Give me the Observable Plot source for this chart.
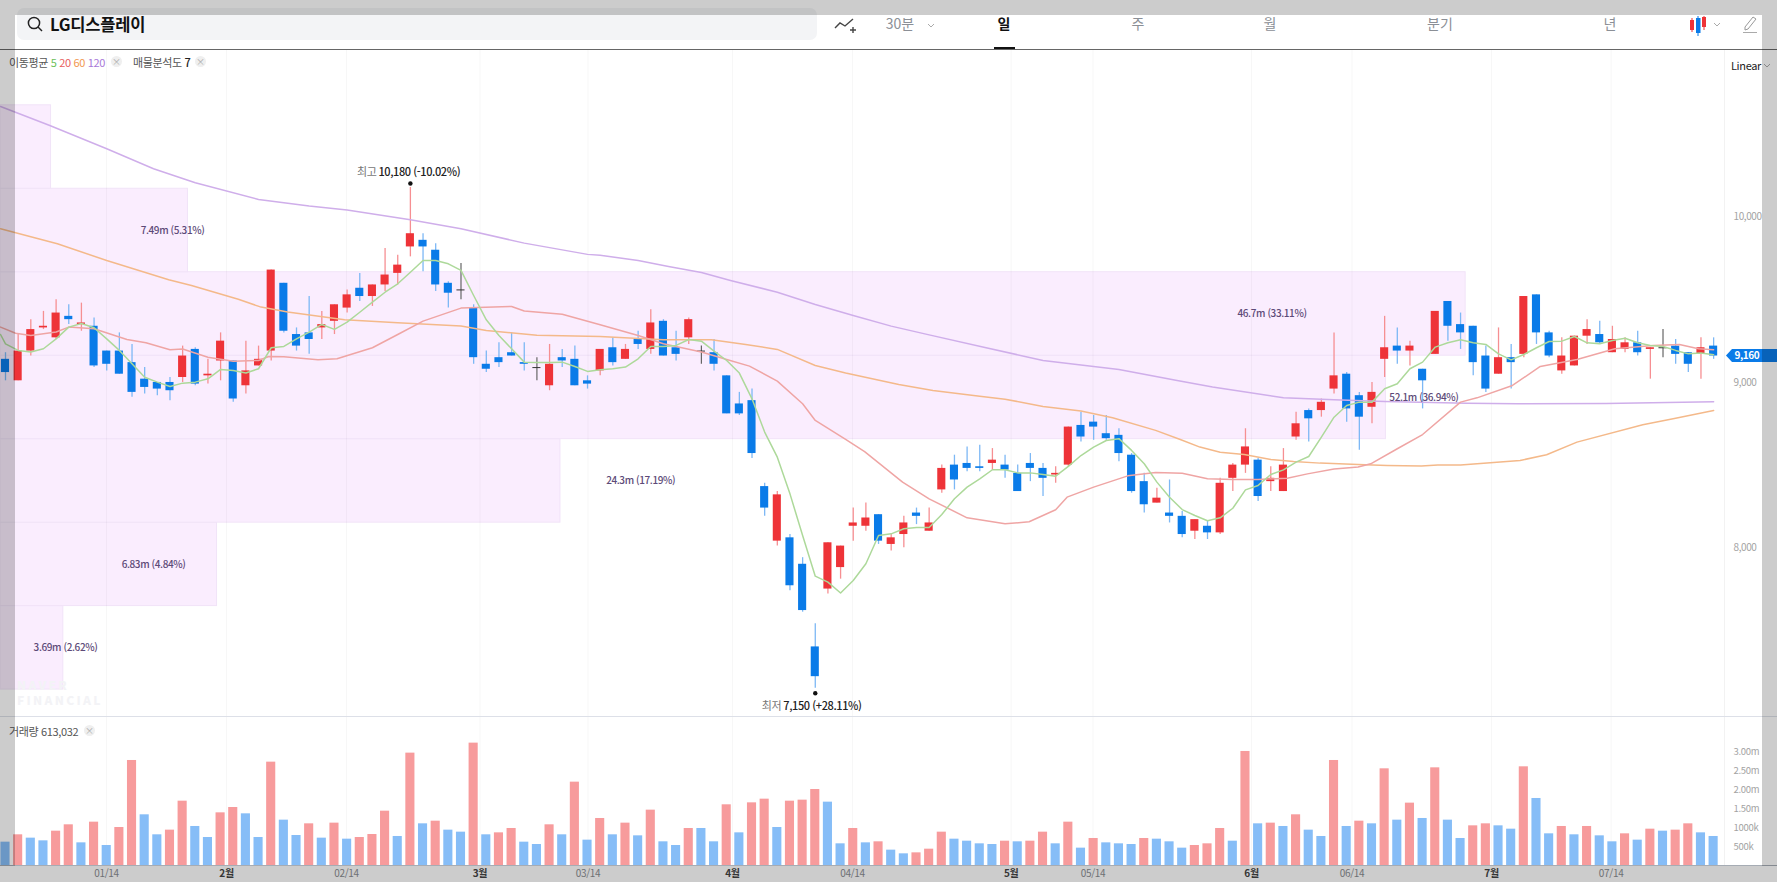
<!DOCTYPE html>
<html lang="ko">
<head>
<meta charset="utf-8">
<script src="https://cdn.jsdelivr.net/npm/d3@7"></script>
<script src="https://cdn.jsdelivr.net/npm/@observablehq/plot@0.6"></script>
<style>
html,body{margin:0;padding:0;width:1777px;height:882px;overflow:hidden;background:#fff;font-family:'Noto Sans CJK KR','Noto Sans',sans-serif;}
.abs{position:absolute;white-space:nowrap;}
.tab{position:absolute;top:13px;font-size:14px;color:#8b8f96;transform:translateX(-50%);line-height:20px;}
.leg{position:absolute;font-size:11px;letter-spacing:-.35px;line-height:14px;color:#555;white-space:nowrap;}
.x{position:absolute;width:11px;height:11px;border-radius:50%;background:#efefef;color:#aaa;font-size:9px;line-height:11px;text-align:center;}
#price{position:absolute;left:0;top:50px;}
#volume{position:absolute;left:0;top:716px;}
.shade{position:absolute;background:rgba(0,0,0,.2);z-index:10;}
</style>
</head>
<body>
<div class="abs" style="left:17px;top:8px;width:800px;height:32px;background:#f3f4f6;border-radius:7px;"></div>
<svg class="abs" style="left:27px;top:16px" width="17" height="17" viewBox="0 0 17 17"><circle cx="7" cy="7" r="5.6" fill="none" stroke="#222" stroke-width="1.5"/><line x1="11" y1="11" x2="15" y2="15" stroke="#222" stroke-width="1.5"/></svg>
<div class="abs" style="left:50px;top:12px;font-size:16.5px;font-weight:700;color:#111;line-height:24px;letter-spacing:-.2px;">LG디스플레이</div>
<svg class="abs" style="left:834px;top:16px" width="24" height="20" viewBox="0 0 24 20"><polyline points="1,12 6,7 11,10 19,3" fill="none" stroke="#444" stroke-width="1.4"/><path d="M16 14h6M19 11v6" stroke="#444" stroke-width="1.4"/></svg>
<div class="tab" style="left:900px">30분</div>
<svg class="abs" style="left:927px;top:23px" width="8" height="6" viewBox="0 0 8 6"><polyline points="1,1 4,4 7,1" fill="none" stroke="#aaa"/></svg>
<div class="tab" style="left:1004px;color:#111;font-weight:700">일</div>
<div class="abs" style="left:994px;top:47px;width:21px;height:3px;background:#111"></div>
<div class="tab" style="left:1138px">주</div>
<div class="tab" style="left:1270px">월</div>
<div class="tab" style="left:1440px">분기</div>
<div class="tab" style="left:1610px">년</div>
<svg class="abs" style="left:1689px;top:14px" width="18" height="22" viewBox="0 0 18 22"><line x1="3" y1="4" x2="3" y2="18" stroke="#ee3338"/><rect x="1" y="6" width="4" height="10" fill="#ee3338"/><line x1="9" y1="2" x2="9" y2="22" stroke="#0a7be8"/><rect x="7" y="4" width="4.5" height="15" fill="#0a7be8"/><line x1="15" y1="2" x2="15" y2="16" stroke="#ee3338"/><rect x="13" y="3" width="4" height="10" fill="#ee3338"/></svg>
<svg class="abs" style="left:1713px;top:22px" width="8" height="6" viewBox="0 0 8 6"><polyline points="1,1 4,4 7,1" fill="none" stroke="#aaa"/></svg>
<svg class="abs" style="left:1742px;top:15px" width="16" height="19" viewBox="0 0 16 19"><path d="M3 12L11 2l3 2-8 10-3 1z" fill="none" stroke="#999" stroke-width="1"/><line x1="1" y1="17.5" x2="15" y2="17.5" stroke="#aaa"/></svg>
<div id="price"></div>
<div id="volume"></div>
<div class="abs" style="left:0;top:49px;width:1777px;height:1px;background:#666"></div>
<div class="abs" style="left:0;top:715.5px;width:1777px;height:1.5px;background:#dde0e8"></div>
<div class="abs" style="left:0;top:866px;width:1777px;height:16px;background:#eaeef3;z-index:-1"></div>
<div class="abs" style="left:0;top:864.8px;width:1777px;height:1.5px;background:#a6acb4"></div>

<div class="leg" style="left:9px;top:55px">이동평균 <span style="color:#6bbf59">5</span> <span style="color:#e8605f">20</span> <span style="color:#f2994f">60</span> <span style="color:#a878d8">120</span></div>
<div class="x" style="left:111px;top:56px">×</div>
<div class="leg" style="left:133px;top:55px">매물분석도 <b style="color:#222;font-weight:500">7</b></div>
<div class="x" style="left:195px;top:56px">×</div>
<div class="leg" style="left:1731px;top:58px;color:#222">Linear</div>
<svg class="abs" style="left:1763px;top:63px" width="8" height="6" viewBox="0 0 8 6"><polyline points="1,1 4,4 7,1" fill="none" stroke="#aaa"/></svg>
<div class="leg" style="left:9px;top:724px">거래량 613,032</div>
<div class="x" style="left:84px;top:725px">×</div>
<div class="abs" style="left:17px;top:677px;font-size:12px;line-height:15px;font-weight:800;color:#f3f3f6;letter-spacing:2.3px;">NAVER<br>FINANCIAL</div>

<div class="shade" style="left:0;top:0;width:1777px;height:15px"></div>
<div class="shade" style="left:0;top:15px;width:15px;height:851px"></div>
<div class="shade" style="left:1762px;top:15px;width:15px;height:851px"></div>
<div class="shade" style="left:0;top:866px;width:1777px;height:16px"></div>

<script>
const opens = [9140,9010,9190,9330,9270,9400,9350,9340,9190,9190,9120,9020,9000,9000,9030,9200,9040,9130,9130,8980,9100,9190,9600,9290,9300,9330,9370,9450,9570,9520,9590,9660,9820,9860,9800,9600,9560,9450,9110,9150,9180,9120,9090,8980,9150,9140,9010,9070,9210,9140,9260,9200,9370,9210,9270,9190,9180,9040,8870,8890,8370,8040,8060,7900,7400,7750,7880,8130,8130,8200,8020,8080,8210,8100,8350,8500,8510,8490,8510,8500,8450,8510,8480,8440,8500,8740,8760,8690,8680,8560,8400,8270,8210,8190,8100,8130,8090,8420,8500,8530,8400,8340,8670,8830,8830,8960,9050,8920,8850,9140,9220,9190,9080,9170,9490,9350,9340,9160,9050,9150,9170,9530,9300,9070,9100,9280,9290,9180,9200,9240,9200,9210,9220,9180,9170,9220];
const highs = [9180,9290,9380,9430,9500,9470,9480,9390,9190,9300,9230,9090,9000,9030,9220,9210,9140,9300,9130,9250,9220,9680,9600,9330,9520,9430,9470,9560,9660,9590,9810,9770,10180,9900,9840,9610,9720,9470,9190,9240,9300,9240,9150,9230,9200,9220,9040,9200,9270,9230,9310,9440,9380,9310,9390,9220,9260,9040,8940,8960,8390,8340,8080,7940,7540,8030,8010,8240,8270,8200,8080,8190,8240,8240,8500,8560,8610,8620,8600,8560,8500,8570,8510,8490,8730,8820,8800,8800,8720,8570,8450,8360,8410,8220,8170,8160,8420,8510,8720,8540,8490,8600,8820,8840,8900,9300,9060,8940,9000,9400,9330,9250,9080,9430,9490,9420,9340,9220,9330,9230,9520,9530,9310,9270,9280,9380,9370,9340,9270,9310,9210,9320,9260,9180,9270,9270];
const lows = [9010,9010,9160,9320,9260,9350,9310,9090,9070,9050,8910,8930,8920,8890,9000,8980,8990,9010,8880,8930,9100,9130,9300,9190,9170,9260,9290,9420,9490,9460,9550,9590,9760,9670,9550,9450,9500,9110,9060,9090,9160,9070,9010,8950,9090,8980,8960,9040,9100,9140,9200,9170,9160,9130,9230,9110,9070,8810,8800,8540,8190,8010,7740,7610,7150,7720,7810,8040,8100,8020,7980,8000,8140,8100,8330,8350,8460,8460,8470,8420,8340,8400,8310,8390,8490,8640,8650,8650,8520,8330,8210,8270,8150,8060,8050,8050,8080,8340,8450,8280,8340,8340,8650,8640,8790,8930,8760,8590,8750,9030,9110,9100,8840,9170,9250,9200,9040,8940,9050,8960,9150,9230,9150,9050,9100,9230,9230,9180,9180,9160,9020,9150,9110,9060,9020,9140];
const closes = [9060,9190,9320,9340,9420,9380,9360,9100,9110,9050,8940,8970,8960,8950,9160,8990,9050,9250,8900,9070,9140,9680,9310,9220,9260,9350,9470,9530,9520,9590,9650,9710,9900,9820,9590,9540,9560,9150,9080,9120,9160,9110,9090,9110,9130,8980,8990,9200,9120,9200,9230,9360,9160,9170,9380,9190,9110,8810,8810,8570,8240,8320,7770,7620,7220,8030,8010,8150,8180,8040,8060,8150,8190,8150,8480,8410,8480,8480,8530,8470,8340,8480,8420,8450,8730,8670,8730,8660,8570,8340,8260,8300,8190,8080,8170,8090,8390,8500,8610,8310,8420,8500,8750,8780,8880,9040,8840,8790,8940,9210,9190,9220,9010,9430,9340,9300,9120,8960,9150,9120,9520,9300,9160,9160,9280,9320,9240,9260,9240,9180,9210,9210,9170,9110,9210,9160];
const volumesK = [616,810,722,651,906,1074,598,1144,528,1003,2772,1338,810,933,1698,1030,739,1390,1531,1364,739,2728,1197,792,1100,722,1118,695,739,818,1434,766,2966,1100,1170,933,880,3230,810,862,977,616,554,1074,810,2200,669,1241,810,1118,783,1461,625,528,977,977,625,1602,862,1654,1751,1003,1698,1725,2006,1672,572,977,598,625,405,308,334,431,880,695,642,572,554,642,625,642,880,572,1144,458,713,598,572,554,713,695,625,458,528,572,977,642,3010,1100,1118,1030,1338,933,766,2772,1030,1170,1100,2552,1197,1646,1241,2578,1197,713,1047,1100,1047,959,2605,1769,836,1030,810,1030,783,625,836,669,959,906,933,1100,862,766];
const volumeColors = ("brbbrrbrbr"+"rbbrrbbrrb"+"brbbrbrbrr"+"rbrbrbbrbr"+"rbbrbrbrbr"+"brbbrbbrbr"+"rbrrrbbrbr"+"bbrrrbbbbr"+"brrbrbrbbb"+"rbbbrrrbrb"+"rbrbbrbrbr"+"brbrbbrrbb"+"rbbrbrbbrb"+"rbrrbb").split("");

const ma5Start = {i:-0.39, v:9290};
const ma5 = [9234,9194,9184,9204,9264,9335,9357,9331,9264,9194,9113,9032,9002,8976,8996,9002,9022,9079,9073,9057,9083,9210,9218,9264,9305,9351,9321,9365,9425,9486,9546,9597,9667,9738,9738,9718,9678,9526,9379,9284,9204,9123,9121,9121,9123,9097,9067,9077,9083,9093,9143,9218,9218,9224,9260,9250,9190,9133,9057,8901,8700,8548,8326,8074,7828,7792,7726,7802,7903,8074,8084,8115,8123,8123,8201,8296,8367,8417,8472,8472,8453,8453,8443,8433,8492,8558,8609,8649,8660,8589,8508,8397,8306,8231,8195,8163,8181,8239,8350,8377,8443,8471,8518,8552,8669,8790,8861,8881,8881,8962,8992,9083,9123,9214,9240,9258,9240,9230,9173,9137,9169,9210,9248,9250,9278,9240,9234,9254,9268,9240,9224,9218,9194,9173,9178,9168];
const ma20Idx = [-0.39,0.8,2,4,5,7,9.6,11.1,13,14,16,18,20,20.8,22,24.7,26.2,29,31,33,36,40,41,44,47,50,52,55,57,58.8,61,63,64,66.4,67.9,70.9,73,76,79,80.9,83,83.9,86,88.7,90.9,93,95,97,99,101.3,102.9,105,106.9,107.9,110,112,115,116.3,119.1,121.3,124.2,127.2,130.2,132.3,133.8,135];
const ma20 = [9335,9298,9284,9305,9335,9325,9260,9240,9198,9202,9153,9129,9133,9157,9155,9137,9143,9210,9290,9371,9450,9460,9432,9413,9349,9284,9234,9184,9139,9099,9008,8871,8770,8655,8582,8397,8296,8181,8145,8157,8230,8306,8367,8435,8455,8451,8417,8413,8413,8421,8447,8477,8488,8508,8599,8685,8881,8907,8982,9097,9139,9204,9224,9230,9204,9198];
const ma60Idx = [-0.39,2.3,4.1,8,12.9,14.7,18.4,20.2,22.3,26.8,31,36,38,42,47,52,55.8,58.5,61,64,66.4,70.6,73.3,77,79,82,85,87.5,90.9,92.9,94.4,96,97.9,100,101.8,103.9,106.9,109.2,111.9,113.2,115,119.7,121.8,124.2,129.4,131.8,135];
const ma60 = [9930,9876,9839,9738,9622,9587,9503,9456,9426,9379,9361,9341,9315,9286,9278,9258,9258,9230,9200,9103,9057,8988,8952,8917,8899,8855,8827,8786,8710,8653,8609,8578,8564,8534,8522,8512,8504,8498,8494,8500,8500,8528,8563,8639,8744,8780,8831];
const ma120Idx = [-0.39,3.5,8,11.7,15,20,24,27,32,36,41,46,47,50,52.4,55,57.3,61,64,67,70,73,77.5,82,85,88,92.6,95.4,101,105,109,115.5,119.5,126.5,135];
const ma120 = [10670,10555,10414,10293,10208,10107,10067,10043,9984,9930,9843,9775,9769,9738,9702,9665,9617,9546,9472,9405,9341,9288,9210,9133,9105,9079,9012,8972,8907,8895,8885,8875,8871,8873,8883];

const bandEdges = [7142,7647,8152,8657,9162,9667,10172,10677];
const bandEnds = [4.57,16.72,43.86,109.1,115.4,14.42,3.6];
const bandLabels = ["3.69m (2.62%)","6.83m (4.84%)","24.3m (17.19%)","52.1m (36.94%)","46.7m (33.11%)","7.49m (5.31%)",""];
const bandLabelAt = [4.74,11.7,50.2,112.1,100.1,13.2,0];

const monthTicks = [17.47,37.5,57.46,79.48,98.48,117.45];
const monthLabels = ["2월","3월","4월","5월","6월","7월"];
const dateTicks = [7.98,26.95,46.04,66.94,85.95,106.42,126.9];
const dateLabels = ["01/14","02/14","03/14","04/14","05/14","06/14","07/14"];
const priceTicks = [8000,9000,10000];
const volumeTicks = [500,1000,1500,2000,2500,3000];
const volumeTickLabels = ["500k","1000k","1.50m","2.00m","2.50m","3.00m"];
const lastPrice = [{price:9160,label:"9,160"}];
const highNote = {i:32, price:10180, tag:"최고", text:"10,180 (-10.02%)"};
const lowNote = {i:64, price:7150, tag:"최저", text:"7,150 (+28.11%)"};

const RED="#ee3338", BLUE="#0a7be8";
const xDomain=[-0.395,135.86];
const font="'Noto Sans CJK KR','Noto Sans',sans-serif";
const candles=opens.map((o,i)=>({i,o,h:highs[i],l:lows[i],c:closes[i]}));
const body=candles.filter(d=>d.c!==d.o);
const doji=candles.filter(d=>d.c===d.o);
const up=d=>d.c>d.o;
const zip=(a,b)=>a.map((i,k)=>({i,v:b[k]}));
const ma5Line=[ma5Start,...ma5.map((v,i)=>({i,v}))];
const bands=bandEnds.map((end,k)=>({end,lo:bandEdges[k],hi:bandEdges[k+1],label:bandLabels[k],at:bandLabelAt[k]}));
const grid=[...monthTicks,...dateTicks];
const lineOpt=(stroke)=>({x:"i",y:"v",stroke,strokeWidth:1.5,curve:"linear"});

const price=Plot.plot({
  width:1777,height:666,marginLeft:0,marginTop:0,marginBottom:0,marginRight:53,
  style:{background:"transparent",fontFamily:font,overflow:"visible",letterSpacing:"-0.4px"},
  x:{domain:xDomain,axis:null},
  y:{domain:[6979,11008.5],label:null},
  marks:[
    Plot.rect(bands,{x1:xDomain[0],x2:"end",y1:"lo",y2:"hi",fill:"#faedfe",stroke:"#f1e3f8",strokeWidth:1}),
    Plot.ruleX(grid,{stroke:"#000",strokeOpacity:.035}),
    Plot.ruleX([xDomain[1]],{stroke:"#000",strokeOpacity:.05}),
    Plot.ruleX(body,{x:"i",y1:"l",y2:"h",stroke:d=>up(d)?"#f68f92":"#7db8f5",strokeWidth:1.3}),
    Plot.ruleX(doji,{x:"i",y1:"l",y2:"h",stroke:"#666",strokeWidth:1.2}),
    Plot.ruleY(doji,{y:"c",x1:d=>d.i-.32,x2:d=>d.i+.32,stroke:"#333",strokeWidth:1}),
    Plot.rect(body,{x1:d=>d.i-.32,x2:d=>d.i+.32,y1:"o",y2:"c",fill:d=>up(d)?RED:BLUE}),
    Plot.line(zip(ma120Idx,ma120),lineOpt("#cfaeea")),
    Plot.line(zip(ma60Idx,ma60),lineOpt("#f4b98a")),
    Plot.line(zip(ma20Idx,ma20),lineOpt("#efa5a4")),
    Plot.line(ma5Line,lineOpt("#add99a")),
    Plot.text(bands.filter(d=>d.label),{x:"at",y:d=>(d.lo+d.hi)/2,text:"label",fontSize:10,fontWeight:500,fill:"#5d4a78"}),
    Plot.dot([highNote],{x:"i",y:"price",r:2.2,fill:"#111",dy:-4}),
    Plot.dot([lowNote],{x:"i",y:"price",r:2.2,fill:"#111",dy:5}),
    Plot.text([highNote],{x:"i",y:"price",text:"tag",dx:-34,dy:-15,textAnchor:"end",fontSize:11,fill:"#777"}),
    Plot.text([highNote],{x:"i",y:"price",text:"text",dx:-32,dy:-15,textAnchor:"start",fontSize:11,fontWeight:500,fill:"#222"}),
    Plot.text([lowNote],{x:"i",y:"price",text:"tag",dx:-34,dy:18,textAnchor:"end",fontSize:11,fill:"#777"}),
    Plot.text([lowNote],{x:"i",y:"price",text:"text",dx:-32,dy:18,textAnchor:"start",fontSize:11,fontWeight:500,fill:"#222"}),
    Plot.axisY(priceTicks,{anchor:"right",tickSize:0,tickPadding:9,tickFormat:d3.format(","),fontSize:10,fill:"#a3a3a3",label:null}),
    (index,scales)=>{
      const y=scales.y(lastPrice[0].price), x=scales.x(xDomain[1])+2;
      const g=d3.create("svg:g");
      g.append("path").attr("d",`M${x},${y} l6,-6.5 h60 v13 h-60 z`).attr("fill",BLUE);
      return g.node();
    },
    Plot.text(lastPrice,{x:xDomain[1],y:"price",text:"label",dx:10,textAnchor:"start",fontSize:10,fontWeight:700,fill:"#ffffff"})
  ]
});
document.getElementById("price").append(price);

const vols=volumesK.map((v,i)=>({i,v,col:volumeColors[i]}));
const lookup=(ticks,labels)=>t=>labels[ticks.indexOf(t)];
const volume=Plot.plot({
  width:1777,height:166,marginLeft:0,marginTop:0,marginBottom:17,marginRight:53,
  style:{background:"transparent",fontFamily:font,overflow:"visible",letterSpacing:"-0.3px"},
  x:{domain:xDomain,label:null},
  y:{domain:[0,3933],label:null},
  marks:[
    Plot.ruleX(grid,{stroke:"#000",strokeOpacity:.035}),
    Plot.ruleX([xDomain[1]],{stroke:"#000",strokeOpacity:.05}),
    Plot.rectY(vols,{x1:d=>d.i-.36,x2:d=>d.i+.36,y1:0,y2:"v",fill:d=>d.col==="r"?"#f79b9c":"#86bdf7"}),
    Plot.axisY(volumeTicks,{anchor:"right",tickSize:0,tickPadding:9,tickFormat:lookup(volumeTicks,volumeTickLabels),fontSize:9.5,fill:"#a3a3a3",label:null}),
    Plot.axisX(dateTicks,{anchor:"bottom",tickSize:0,tickPadding:4,tickFormat:lookup(dateTicks,dateLabels),fontSize:10,fill:"#8a8d92",label:null}),
    Plot.axisX(monthTicks,{anchor:"bottom",tickSize:0,tickPadding:4,tickFormat:lookup(monthTicks,monthLabels),fontSize:10,fontWeight:700,fill:"#444",label:null})
  ]
});
document.getElementById("volume").append(volume);
</script>
</body>
</html>
